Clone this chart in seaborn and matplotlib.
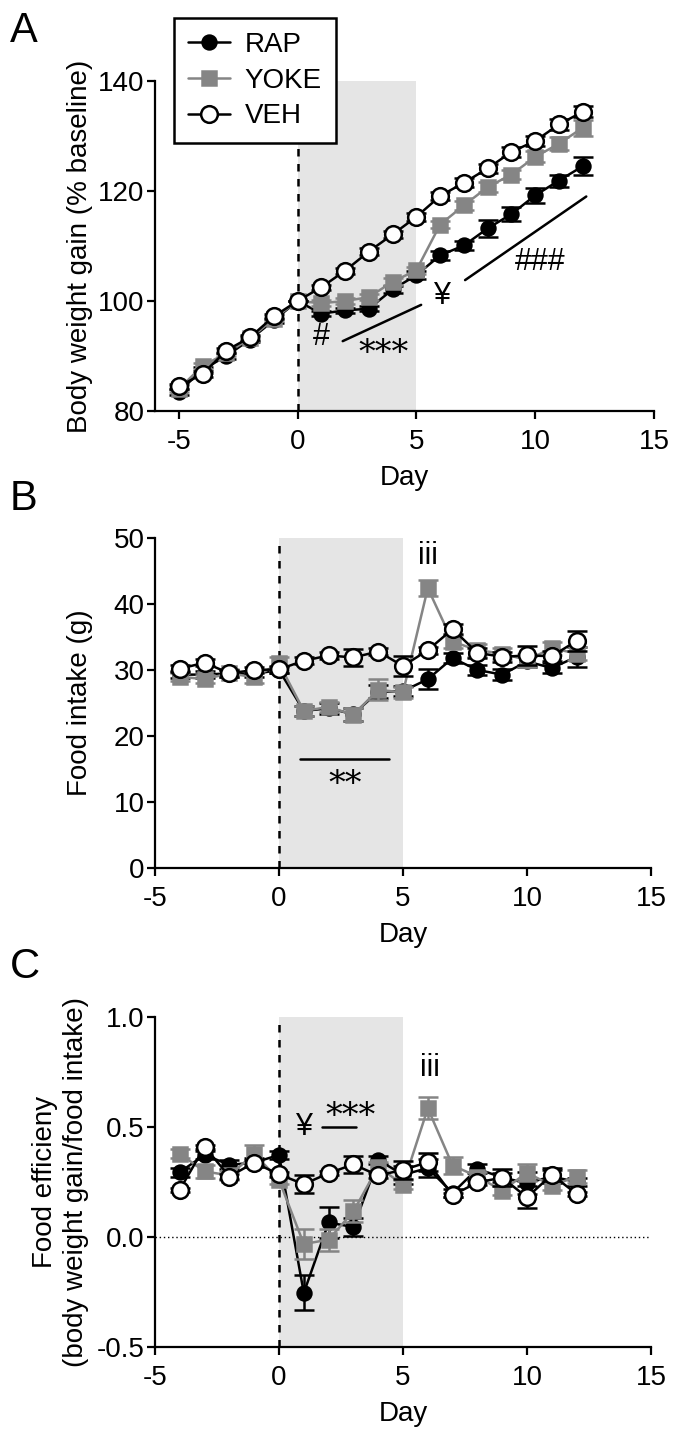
import numpy as np
import pandas as pd
import matplotlib
matplotlib.use("Agg")
import matplotlib.pyplot as plt
import seaborn as sns

# ---------------- data ----------------
days_A = list(range(-5, 13))
A_rap = [83.5, 87.5, 90.0, 93.0, 96.5, 100.0, 97.7, 98.3, 98.6, 102.1, 104.7, 108.3, 110.1, 113.2, 115.8, 119.2, 121.9, 124.5]
A_rap_err = [0.5, 0.5, 0.5, 0.5, 0.5, 0.0, 0.5, 0.5, 0.5, 0.6, 0.7, 0.8, 0.9, 1.5, 1.3, 1.3, 1.1, 1.6]
A_yoke = [84.0, 88.2, 90.5, 93.2, 96.8, 100.0, 99.6, 100.0, 100.7, 103.5, 105.6, 113.9, 117.4, 120.7, 123.0, 126.2, 128.6, 131.5]
A_yoke_err = [0.5, 0.5, 0.5, 0.5, 0.5, 0.0, 0.5, 0.5, 0.5, 0.6, 0.6, 0.7, 0.8, 0.9, 0.9, 1.0, 1.2, 1.5]
A_veh = [84.5, 86.7, 91.0, 93.4, 97.2, 100.0, 102.5, 105.5, 109.0, 112.1, 115.3, 119.1, 121.5, 124.1, 127.1, 129.1, 132.1, 134.4]
A_veh_err = [0.5, 0.5, 0.5, 0.5, 0.5, 0.0, 0.5, 0.5, 0.6, 0.6, 0.7, 0.7, 0.8, 0.8, 0.9, 0.9, 1.0, 1.0]

days_B = list(range(-4, 13))
B_rap = [29.3, 29.3, 29.5, 29.4, 30.0, 23.8, 24.2, 23.3, 26.7, 26.8, 28.6, 31.8, 30.0, 29.3, 31.3, 30.3, 32.0]
B_rap_err = [0.5, 0.5, 0.5, 0.5, 0.5, 0.8, 0.8, 1.0, 1.0, 0.8, 1.5, 0.8, 0.8, 0.8, 0.8, 0.8, 1.5]
B_yoke = [29.0, 28.6, 29.5, 28.9, 31.0, 23.8, 24.4, 23.2, 27.0, 26.6, 42.4, 34.3, 33.0, 32.5, 31.5, 33.3, 32.5]
B_yoke_err = [0.6, 0.6, 0.6, 0.8, 1.0, 0.8, 0.8, 1.0, 1.6, 0.8, 1.2, 1.0, 1.0, 0.8, 1.0, 1.0, 1.0]
B_veh = [30.2, 31.1, 29.5, 30.0, 30.1, 31.4, 32.2, 31.9, 32.8, 30.6, 33.0, 36.2, 32.6, 32.0, 32.2, 32.1, 34.4]
B_veh_err = [0.5, 0.5, 0.5, 0.5, 0.5, 0.5, 0.5, 1.3, 0.5, 1.5, 0.5, 0.8, 0.8, 0.8, 1.5, 0.8, 1.5]

days_C = list(range(-4, 13))
C_rap = [0.295, 0.373, 0.328, 0.338, 0.373, -0.254, 0.066, 0.045, 0.35, 0.283, 0.313, 0.20, 0.31, 0.27, 0.245, 0.275, 0.25]
C_rap_err = [0.02, 0.02, 0.02, 0.02, 0.02, 0.08, 0.07, 0.04, 0.02, 0.04, 0.04, 0.02, 0.02, 0.02, 0.05, 0.03, 0.02]
C_yoke = [0.378, 0.298, 0.28, 0.378, 0.26, -0.032, -0.012, 0.116, 0.32, 0.237, 0.585, 0.325, 0.275, 0.21, 0.293, 0.233, 0.275]
C_yoke_err = [0.02, 0.03, 0.02, 0.04, 0.02, 0.07, 0.05, 0.05, 0.02, 0.02, 0.05, 0.04, 0.02, 0.02, 0.04, 0.02, 0.03]
C_veh = [0.215, 0.41, 0.275, 0.338, 0.285, 0.24, 0.29, 0.33, 0.28, 0.305, 0.34, 0.19, 0.248, 0.27, 0.18, 0.283, 0.196]
C_veh_err = [0.01, 0.01, 0.01, 0.01, 0.01, 0.04, 0.01, 0.04, 0.01, 0.04, 0.04, 0.01, 0.01, 0.04, 0.05, 0.03, 0.01]

groups = ["RAP", "YOKE", "VEH"]

# ---------------- style ----------------
sns.set_style("ticks")
plt.rcParams["font.family"] = ["Liberation Sans", "DejaVu Sans"]
for k in ["text.color", "axes.labelcolor", "xtick.color", "ytick.color", "axes.edgecolor"]:
    plt.rcParams[k] = "black"
plt.rcParams["axes.linewidth"] = 1.6
plt.rcParams["xtick.major.width"] = 1.6
plt.rcParams["ytick.major.width"] = 1.6
plt.rcParams["xtick.major.size"] = 6
plt.rcParams["ytick.major.size"] = 6
plt.rcParams["xtick.major.pad"] = 7
plt.rcParams["ytick.major.pad"] = 1.5
plt.rcParams["xtick.labelsize"] = 20
plt.rcParams["ytick.labelsize"] = 20
plt.rcParams["axes.labelsize"] = 20

GRAY = "#858585"
style = {
    "RAP": dict(color="black", marker="o", mfc="black", mec="black", ms=10, z=3),
    "YOKE": dict(color=GRAY, marker="s", mfc=GRAY, mec=GRAY, ms=10, z=4),
    "VEH": dict(color="black", marker="o", mfc="white", mec="black", ms=12, z=5),
}

W, H = 674, 1436
fig = plt.figure(figsize=(W / 100, H / 100), dpi=100)


def axes_px(left, right, top, bottom):
    return fig.add_axes([left / W, 1 - bottom / H, (right - left) / W, (bottom - top) / H])


axA = axes_px(155, 654, 81, 411)
axB = axes_px(155, 651, 538, 868)
axC = axes_px(155, 651, 1017, 1347)


def draw(ax, days, series, errs):
    for g in groups:
        s = style[g]
        y = series[g]
        ax.errorbar(days, y, yerr=errs[g], fmt="none", ecolor=s["color"],
                    elinewidth=1.8, capsize=7, capthick=1.8, zorder=s["z"] - 0.5)
        sns.lineplot(x=days, y=y, ax=ax, color=s["color"], marker=s["marker"],
                     markersize=s["ms"], markerfacecolor=s["mfc"], markeredgecolor=s["mec"],
                     markeredgewidth=1.8, linewidth=1.8, label=g, zorder=s["z"],
                     legend=False)


def base(ax, ylim, yticks, xlim):
    ax.set_xlim(*xlim)
    ax.set_ylim(*ylim)
    ax.set_yticks(yticks)
    ax.set_xticks([-5, 0, 5, 10, 15])
    ax.set_xticklabels(["-5", "0", "5", "10", "15"])
    ax.axvspan(0, 5, color="#e5e5e5", zorder=0, lw=0)
    ax.axvline(0, color="black", ls=(0, (3, 3)), lw=1.8, zorder=1)
    sns.despine(ax=ax)
    ax.set_xlabel("Day", labelpad=7)


# Panel A
base(axA, (80, 140), [80, 100, 120, 140], (-6, 15))
draw(axA, days_A, {"RAP": A_rap, "YOKE": A_yoke, "VEH": A_veh},
     {"RAP": A_rap_err, "YOKE": A_yoke_err, "VEH": A_veh_err})
axA.set_yticklabels(["80", "100", "120", "140"])
axA.set_ylabel("Body weight gain (% baseline)")
axA.text(1.0, 93.5, "#", ha="center", va="center", fontsize=22)
axA.plot([1.9, 5.2], [92.7, 99.3], color="black", lw=1.8)
axA.text(3.6, 90.3, "***", ha="center", va="center", fontsize=24, family="DejaVu Serif")
axA.text(6.1, 101.0, "¥", ha="center", va="center", fontsize=22)
axA.plot([7.05, 12.15], [103.8, 119.0], color="black", lw=1.8)
axA.text(10.2, 107.1, "###", ha="center", va="center", fontsize=22)

# Panel B
base(axB, (0, 50), [0, 10, 20, 30, 40, 50], (-5, 15))
draw(axB, days_B, {"RAP": B_rap, "YOKE": B_yoke, "VEH": B_veh},
     {"RAP": B_rap_err, "YOKE": B_yoke_err, "VEH": B_veh_err})
axB.set_ylabel("Food intake (g)")
axB.text(6.0, 47.3, "iii", ha="center", va="center", fontsize=22)
axB.plot([0.85, 4.45], [16.5, 16.5], color="black", lw=1.8)
axB.text(2.65, 12.6, "**", ha="center", va="center", fontsize=24, family="DejaVu Serif")

# Panel C
base(axC, (-0.5, 1.0), [-0.5, 0.0, 0.5, 1.0], (-5, 15))
axC.axhline(0, color="black", ls=(0, (1, 2)), lw=1.0, zorder=1)
draw(axC, days_C, {"RAP": C_rap, "YOKE": C_yoke, "VEH": C_veh},
     {"RAP": C_rap_err, "YOKE": C_yoke_err, "VEH": C_veh_err})
axC.set_yticklabels(["-0.5", "0.0", "0.5", "1.0"])
axC.set_ylabel("Food efficieny\n(body weight gain/food intake)", linespacing=1.25)
axC.text(6.07, 0.77, "iii", ha="center", va="center", fontsize=22)
axC.text(1.03, 0.50, "¥", ha="center", va="center", fontsize=22)
axC.plot([1.73, 3.12], [0.50, 0.50], color="black", lw=1.8)
axC.text(2.9, 0.545, "***", ha="center", va="center", fontsize=24, family="DejaVu Serif")

axA.yaxis.set_label_coords(-0.124, 0.5)
axB.yaxis.set_label_coords(-0.125, 0.5)
axC.yaxis.set_label_coords(-0.133, 0.5)

# Legend
handles = [h for h in axA.lines if h.get_label() in groups]
leg = fig.legend(handles, groups, loc="upper left", bbox_to_anchor=(174 / W, 1 - 18 / H),
                 frameon=True, fancybox=False, edgecolor="black", fontsize=20,
                 handlelength=1.5, borderpad=0.5, labelspacing=0.35, handletextpad=0.55,
                 borderaxespad=0)
leg.get_frame().set_linewidth(1.8)
leg.get_frame().set_facecolor("white")
leg.get_frame().set_alpha(1)

# Panel letters
fig.text(10 / W, 1 - 42 / H, "A", fontsize=30, va="baseline")
fig.text(10 / W, 1 - 510 / H, "B", fontsize=30, va="baseline")
fig.text(10 / W, 1 - 978 / H, "C", fontsize=30, va="baseline")

fig.savefig("out.png", dpi=100)
